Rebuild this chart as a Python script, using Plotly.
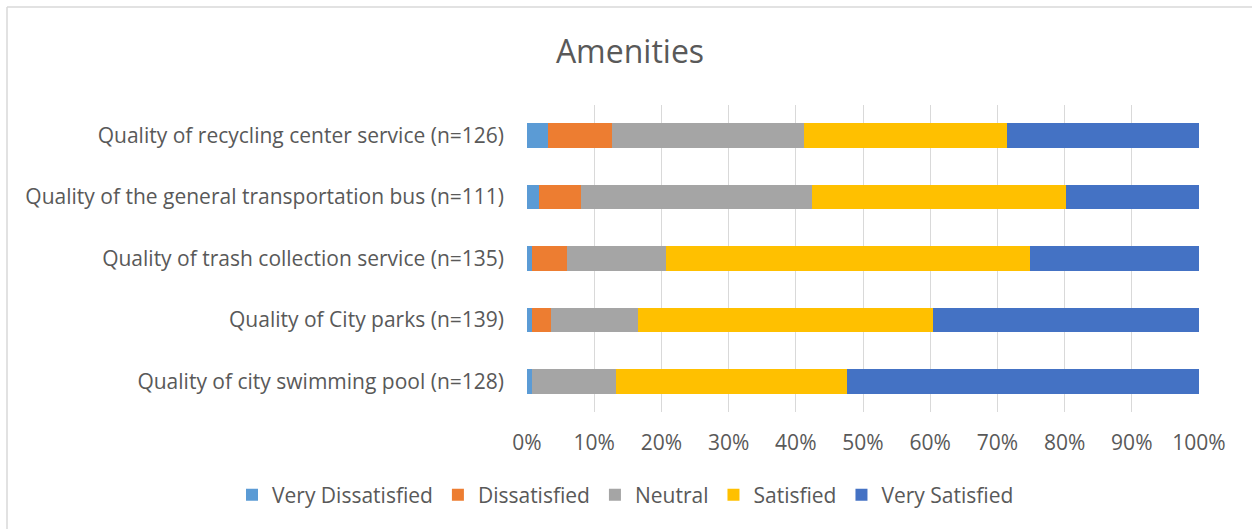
import plotly.graph_objects as go

# categories bottom to top, as drawn
categories = [
    "Quality of city swimming pool (n=128)",
    "Quality of City parks (n=139)",
    "Quality of trash collection service (n=135)",
    "Quality of the general transportation bus (n=111)",
    "Quality of recycling center service (n=126)",
]

# response counts per category (same order as categories)
very_dissatisfied = [1, 1, 1, 2, 4]
dissatisfied = [0, 4, 7, 7, 12]
neutral = [16, 18, 20, 38, 36]
satisfied = [44, 61, 73, 42, 38]
very_satisfied = [67, 55, 34, 22, 36]

series = [
    ("Very Dissatisfied", very_dissatisfied, "#5B9BD5"),
    ("Dissatisfied", dissatisfied, "#ED7D31"),
    ("Neutral", neutral, "#A5A5A5"),
    ("Satisfied", satisfied, "#FFC000"),
    ("Very Satisfied", very_satisfied, "#4472C4"),
]

x_ticks = [0, 10, 20, 30, 40, 50, 60, 70, 80, 90, 100]

text_color = "#595959"
font_family = "Open Sans, Calibri, sans-serif"

# plot area in pixels: x 527..1199, y 105..412
px_x = lambda p: (p - 527) / 672
px_y = lambda p: (412 - p) / 307

fig = go.Figure()
for name, values, color in series:
    fig.add_trace(
        go.Bar(
            y=categories,
            x=values,
            name=name,
            orientation="h",
            marker=dict(color=color, line=dict(width=0)),
        )
    )

fig.update_layout(
    barmode="stack",
    barnorm="percent",
    bargap=0.6,
    width=1252,
    height=529,
    margin=dict(l=527, r=53, t=105, b=117),
    paper_bgcolor="white",
    plot_bgcolor="white",
    font=dict(family=font_family, color=text_color, size=21),
    title=dict(
        text="Amenities",
        x=630 / 1252,
        xanchor="center",
        y=1 - 52 / 529,
        yanchor="middle",
        font=dict(size=32, color=text_color, family=font_family),
    ),
    legend=dict(
        orientation="h",
        x=px_x(232),
        xanchor="left",
        y=px_y(495),
        yanchor="middle",
        font=dict(size=21, color=text_color),
        traceorder="normal",
        itemwidth=30,
    ),
    showlegend=True,
)

fig.update_xaxes(
    range=[0, 100],
    tickvals=x_ticks,
    ticktext=[f"{v}%" for v in x_ticks],
    showgrid=True,
    gridcolor="#D9D9D9",
    gridwidth=1,
    zeroline=False,
    showline=False,
    ticks="",
    ticklabelstandoff=16,
    tickfont=dict(size=21, color=text_color),
)
fig.update_yaxes(
    showgrid=False,
    showline=False,
    ticks="",
    ticklabelstandoff=22,
    tickfont=dict(size=21, color=text_color),
)

# light chart border (top and left edges visible in the original)
fig.add_shape(type="line", xref="paper", yref="paper",
              x0=px_x(7), x1=px_x(1252), y0=px_y(7), y1=px_y(7),
              line=dict(color="#D9D9D9", width=1.5), layer="below")
fig.add_shape(type="line", xref="paper", yref="paper",
              x0=px_x(7), x1=px_x(7), y0=px_y(7), y1=px_y(529),
              line=dict(color="#D9D9D9", width=1.5), layer="below")

fig.write_html(
    "out.html",
    config={"displayModeBar": False},
    post_script="document.body.style.margin='0px';",
)
